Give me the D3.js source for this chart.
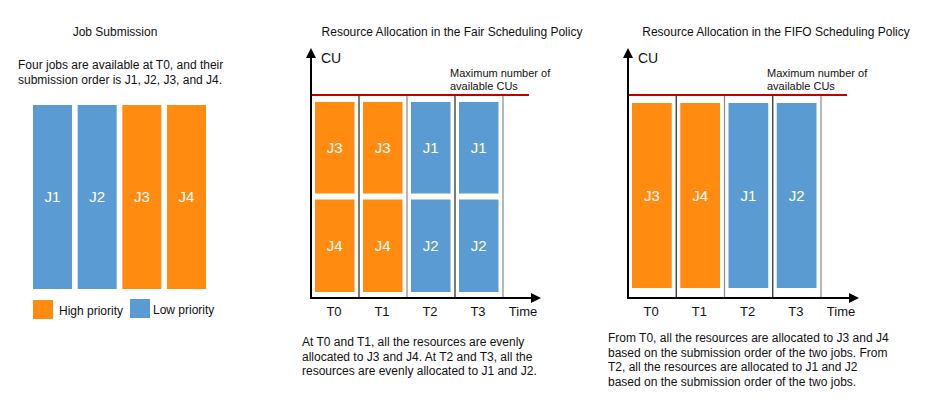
<!DOCTYPE html>
<html><head><meta charset="utf-8">
<script src="https://cdn.jsdelivr.net/npm/d3@7"></script>
<style>body{margin:0;background:#fff}svg{display:block;font-family:"Liberation Sans",Arial,sans-serif}</style>
</head><body><svg id="c" width="936" height="415"></svg>
<script>
// ---- data ----
const jobs = ["J1", "J2", "J3", "J4"];
const jobPriority = ["Low", "Low", "High", "High"];
const jobDemand = [100, 100, 100, 100];
const times = ["T0", "T1", "T2", "T3"];
const maxCU = 100;
// fair scheduling: share of CUs per job at each time
const fairJobs = [["J4", "J3"], ["J4", "J3"], ["J2", "J1"], ["J2", "J1"]];
const fairShares = [[50, 50], [50, 50], [50, 50], [50, 50]];
// FIFO scheduling
const fifoJobs = [["J3"], ["J4"], ["J1"], ["J2"]];
const fifoShares = [[100], [100], [100], [100]];
const legendLabels = ["High priority", "Low priority"];
const titles = ["Job Submission", "Resource Allocation in the Fair Scheduling Policy", "Resource Allocation in the FIFO Scheduling Policy"];
const introText = ["Four jobs are available at T0, and their", "submission order is J1, J2, J3, and J4."];
const fairText = ["At T0 and T1, all the resources are evenly", "allocated to J3 and J4. At T2 and T3, all the", "resources are evenly allocated to J1 and J2."];
const fifoText = ["From T0, all the resources are allocated to J3 and J4", "based on the submission order of the two jobs. From", "T2, all the resources are allocated to J1 and J2", "based on the submission order of the two jobs."];

const ORANGE = "#FF8C11", BLUE = "#5B9BD3", RED = "#C00000";
const color = p => p === "High" ? ORANGE : BLUE;
const prioOf = j => jobPriority[jobs.indexOf(j)];

const svg = d3.select("#c");
const defs = svg.append("defs");
defs.append("marker").attr("id", "arr").attr("viewBox", "0 0 10 10").attr("refX", 8).attr("refY", 5)
  .attr("markerWidth", 5).attr("markerHeight", 5).attr("orient", "auto-start-reverse")
  .append("path").attr("d", "M0,0L10,5L0,10z").attr("fill", "#000");

function lines(g, arr, x, y0, dy, size, anchor) {
  g.selectAll(null).data(arr).join("text").attr("x", x).attr("y", (d, i) => y0 + i * dy)
    .attr("font-size", size).attr("fill", "#111").attr("text-anchor", anchor || "start").text(d => d);
}

// ---- panel 1: job submission ----
const g1 = svg.append("g");
g1.append("text").attr("x", 115).attr("y", 36).attr("text-anchor", "middle").attr("font-size", 12).attr("fill", "#111").text(titles[0]);
lines(g1, introText, 18, 69, 15, 12);
const x1 = d3.scaleBand().domain(jobs).range([33, 206]).paddingInner(0.127).paddingOuter(0);
const y1 = d3.scaleLinear().domain([0, maxCU]).range([289, 105]);
g1.selectAll("rect.job").data(jobs).join("rect").attr("class", "job")
  .attr("x", d => x1(d)).attr("width", x1.bandwidth())
  .attr("y", (d, i) => y1(jobDemand[i])).attr("height", (d, i) => y1(0) - y1(jobDemand[i]))
  .attr("fill", (d, i) => color(jobPriority[i]));
g1.selectAll("text.jl").data(jobs).join("text").attr("class", "jl")
  .attr("x", d => x1(d) + x1.bandwidth() / 2).attr("y", 197).attr("dy", "0.35em")
  .attr("text-anchor", "middle").attr("font-size", 15).attr("fill", "#fff").text(d => d);
// legend
const leg = [{ p: "High", x: 33, y: 300 }, { p: "Low", x: 130, y: 299 }];
g1.selectAll("rect.lg").data(leg).join("rect").attr("class", "lg")
  .attr("x", d => d.x).attr("y", d => d.y).attr("width", 20).attr("height", 19).attr("fill", d => color(d.p));
g1.selectAll("text.lg").data(leg).join("text").attr("class", "lg")
  .attr("x", d => d.x + 26 - (d.p === "Low" ? 3 : 0)).attr("y", d => d.y + 15).attr("font-size", 12).attr("fill", "#111")
  .text((d, i) => legendLabels[i]);

// ---- schedule panels ----
function schedule(cfg) {
  const g = svg.append("g");
  const x = d3.scaleBand().domain(times).range([cfg.x0, cfg.x1]);
  const y = d3.scaleLinear().domain([0, maxCU]).range([298, 95]);
  g.append("text").attr("x", cfg.titleX).attr("y", 36).attr("text-anchor", "middle").attr("font-size", 12).attr("fill", "#111").text(cfg.title);
  // separators
  g.selectAll("line.sep").data(times).join("line").attr("class", "sep")
    .attr("x1", d => x(d) + x.bandwidth()).attr("x2", d => x(d) + x.bandwidth())
    .attr("y1", y(maxCU)).attr("y2", y(0))
    .attr("stroke", (d, i) => i % 2 === 0 ? "#222" : "#888").attr("stroke-width", 1.2);
  // bars
  const segs = [];
  times.forEach((t, i) => {
    let acc = 0;
    cfg.jobs[i].forEach((j, k) => {
      const v = cfg.shares[i][k];
      segs.push({ t, j, y0: acc, y1: acc + v });
      acc += v;
    });
  });
  const padTop = d => d.y1 >= maxCU ? cfg.outerTop : 3;
  const padBot = d => d.y0 <= 0 ? cfg.outerBot : 3;
  g.selectAll("rect.seg").data(segs).join("rect").attr("class", "seg")
    .attr("x", d => x(d.t) + 4).attr("width", x.bandwidth() - 8.5)
    .attr("y", d => y(d.y1) + padTop(d)).attr("height", d => y(d.y0) - y(d.y1) - padTop(d) - padBot(d))
    .attr("fill", d => color(prioOf(d.j)));
  g.selectAll("text.seg").data(segs).join("text").attr("class", "seg")
    .attr("x", d => x(d.t) + 4 + (x.bandwidth() - 8.5) / 2)
    .attr("y", d => (y(d.y1) + padTop(d) + y(d.y0) - padBot(d)) / 2).attr("dy", "0.35em")
    .attr("text-anchor", "middle").attr("font-size", 15).attr("fill", "#fff").text(d => d.j);
  // max line
  g.append("line").attr("x1", cfg.x0).attr("x2", cfg.redEnd).attr("y1", y(maxCU)).attr("y2", y(maxCU))
    .attr("stroke", RED).attr("stroke-width", 2);
  g.append("text").attr("x", cfg.maxX).attr("y", 77).attr("font-size", 11).attr("fill", "#111").text("Maximum number of");
  g.append("text").attr("x", cfg.maxX).attr("y", 90).attr("font-size", 11).attr("fill", "#111").text("available CUs");
  // axes
  g.append("line").attr("x1", cfg.x0).attr("x2", cfg.x0).attr("y1", y(0) + 1).attr("y2", 50)
    .attr("stroke", "#000").attr("stroke-width", 2).attr("marker-end", "url(#arr)");
  g.append("line").attr("x1", cfg.x0 - 1).attr("x2", cfg.arrowEnd).attr("y1", y(0)).attr("y2", y(0))
    .attr("stroke", "#000").attr("stroke-width", 2).attr("marker-end", "url(#arr)");
  g.append("text").attr("x", cfg.x0 + 10).attr("y", 63).attr("font-size", 14).attr("fill", "#111").text("CU");
  g.selectAll("text.tl").data(times).join("text").attr("class", "tl")
    .attr("x", d => x(d) + x.bandwidth() / 2 - 1).attr("y", 316).attr("text-anchor", "middle")
    .attr("font-size", 13).attr("fill", "#111").text(d => d);
  g.append("text").attr("x", cfg.x1 + 20).attr("y", 316).attr("text-anchor", "middle").attr("font-size", 13).attr("fill", "#111").text("Time");
  lines(g, cfg.text, cfg.textX, cfg.textY, 14.5, 12);
}

schedule({ title: titles[1], titleX: 452, x0: 311, x1: 503, redEnd: 529, arrowEnd: 539, maxX: 450,
  jobs: fairJobs, shares: fairShares, outerTop: 7, outerBot: 6, text: fairText, textX: 302, textY: 346 });
schedule({ title: titles[2], titleX: 776, x0: 628, x1: 821, redEnd: 847, arrowEnd: 857, maxX: 767,
  jobs: fifoJobs, shares: fifoShares, outerTop: 8, outerBot: 10, text: fifoText, textX: 608, textY: 342 });
</script></body></html>
